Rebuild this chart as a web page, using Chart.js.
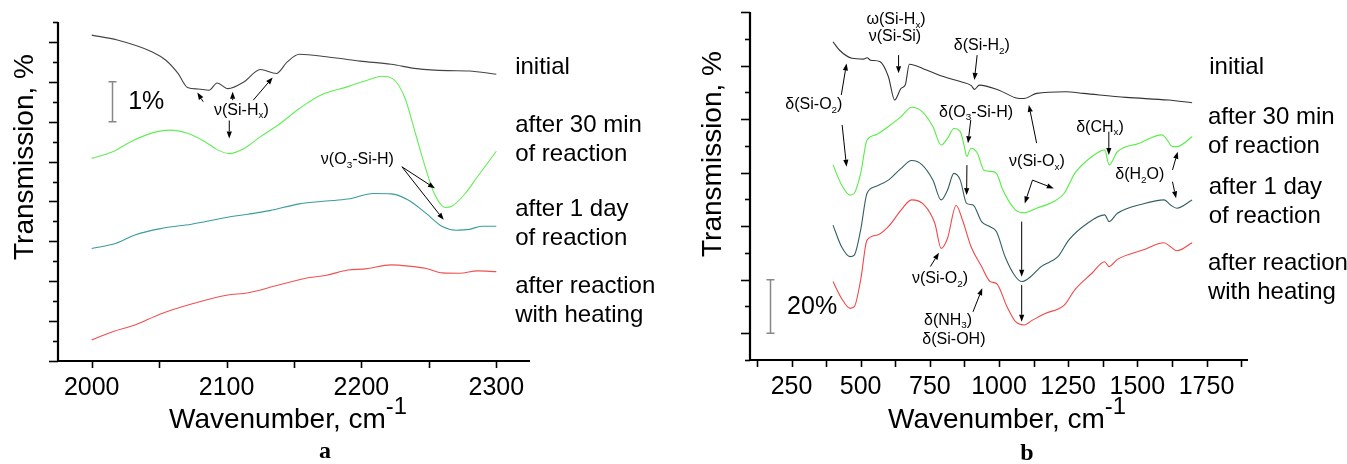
<!DOCTYPE html>
<html>
<head>
<meta charset="utf-8">
<script src="https://cdn.jsdelivr.net/npm/chart.js@4.4.1/dist/chart.umd.min.js"></script>
<style>
body { margin: 0; background: #fff; }
#wrap { position: relative; width: 1347px; height: 464px; }
#chartA { position: absolute; left: 0; top: 0; }
#chartB { position: absolute; left: 680px; top: 0; }
</style>
</head>
<body>
<div id="wrap">
<canvas id="chartA" width="680" height="464" style="width:680px;height:464px"></canvas>
<canvas id="chartB" width="667" height="464" style="width:667px;height:464px"></canvas>
</div>
<script>
// ---- panel a : 2000-2300 cm-1, transmission (offset), %
var xA_initial = [2000, 2019, 2045, 2055, 2064, 2071, 2079, 2087, 2093, 2101, 2113, 2125, 2137, 2145, 2154, 2174, 2199, 2222, 2241, 2264, 2280, 2300];
var yA_initial = [8.17, 8.05, 7.75, 7.54, 7.21, 6.86, 6.82, 6.79, 6.97, 6.83, 7.0, 7.31, 7.21, 7.50, 7.69, 7.63, 7.52, 7.44, 7.33, 7.28, 7.27, 7.19];
var xA_30min = [2000, 2016, 2029, 2045, 2058, 2071, 2084, 2093, 2102, 2113, 2125, 2138, 2154, 2170, 2190, 2206, 2215, 2223, 2232, 2240, 2248, 2254, 2262, 2267, 2277, 2286, 2300];
var yA_30min = [5.08, 5.25, 5.50, 5.72, 5.79, 5.71, 5.50, 5.30, 5.20, 5.33, 5.62, 5.91, 6.33, 6.67, 6.88, 7.06, 7.14, 7.08, 6.62, 5.71, 4.79, 4.20, 3.85, 3.88, 4.20, 4.62, 5.26];
var xA_1day = [2000, 2018, 2032, 2051, 2074, 2100, 2116, 2132, 2154, 2174, 2190, 2209, 2222, 2235, 2248, 2260, 2270, 2280, 2289, 2300];
var yA_1day = [2.82, 2.95, 3.16, 3.32, 3.43, 3.60, 3.68, 3.77, 3.94, 4.01, 4.06, 4.20, 4.19, 4.03, 3.70, 3.37, 3.28, 3.30, 3.38, 3.38];
var xA_heat = [2000, 2016, 2032, 2051, 2074, 2100, 2116, 2138, 2158, 2174, 2190, 2203, 2222, 2235, 2248, 2260, 2273, 2286, 2300];
var yA_heat = [0.53, 0.74, 0.90, 1.18, 1.43, 1.65, 1.71, 1.90, 2.07, 2.15, 2.28, 2.31, 2.41, 2.38, 2.32, 2.21, 2.20, 2.26, 2.24];
var xTicksA = [2000, 2100, 2200, 2300];

// ---- panel b : 400-1700 cm-1
var xB_initial = [400, 423, 469, 510, 523, 536, 569, 600, 623, 646, 661, 676, 738, 799, 860, 900, 911, 929, 998, 1067, 1090, 1136, 1240, 1305, 1459, 1612, 1698];
var yB_initial = [108.9, 105.8, 102.7, 102.4, 102.9, 102.0, 101.5, 95.9, 87.1, 91.5, 92.7, 100.5, 98.3, 95.9, 94.0, 92.5, 91.1, 92.7, 90.9, 87.8, 87.7, 89.6, 90.2, 89.6, 88.1, 87.1, 86.1];
var xB_30min = [400, 431, 462, 477, 500, 523, 554, 600, 646, 684, 722, 761, 791, 814, 837, 860, 876, 883, 899, 922, 945, 975, 991, 1014, 1060, 1091, 1136, 1198, 1236, 1274, 1336, 1382, 1398, 1428, 1505, 1589, 1604, 1627, 1643, 1698];
var yB_30min = [62.9, 55.4, 51.6, 52.3, 59.7, 72.2, 74.1, 77.2, 80.9, 84.4, 82.8, 77.2, 70.3, 72.8, 76.5, 75.3, 69.1, 66.0, 69.1, 67.2, 61.0, 60.4, 59.7, 53.5, 46.0, 45.0, 46.7, 49.2, 52.3, 59.7, 66.0, 68.5, 62.9, 67.8, 70.9, 74.1, 72.8, 69.7, 69.7, 73.4];
var xB_1day = [400, 431, 462, 477, 500, 523, 554, 600, 646, 684, 722, 761, 791, 814, 837, 860, 883, 906, 937, 968, 991, 1022, 1060, 1083, 1114, 1152, 1213, 1252, 1320, 1382, 1398, 1428, 1520, 1597, 1620, 1643, 1698];
var yB_1day = [40.4, 32.3, 28.6, 29.2, 38.6, 52.3, 54.8, 57.2, 61.6, 64.5, 62.9, 57.2, 49.8, 53.5, 59.7, 57.2, 48.5, 47.9, 41.7, 39.8, 37.9, 28.6, 21.1, 19.3, 21.1, 24.9, 28.6, 34.8, 41.1, 44.2, 41.7, 44.8, 48.3, 49.8, 47.9, 46.7, 49.8];
var xB_heat = [400, 431, 462, 477, 500, 523, 561, 600, 646, 684, 730, 768, 791, 814, 845, 868, 899, 937, 968, 991, 1029, 1060, 1091, 1121, 1167, 1236, 1274, 1336, 1382, 1398, 1428, 1520, 1597, 1620, 1643, 1698];
var yB_heat = [19.3, 13.0, 9.3, 9.9, 19.9, 34.8, 36.7, 39.8, 46.0, 49.8, 47.9, 41.1, 31.7, 35.5, 47.7, 42.3, 32.3, 24.9, 19.3, 18.6, 9.9, 4.3, 3.1, 4.9, 7.4, 10.5, 16.2, 22.4, 26.7, 24.9, 27.6, 31.1, 33.8, 32.3, 30.8, 33.8];
var xTicksB = [250, 500, 750, 1000, 1250, 1500, 1750];

var seriesNames = [['initial'], ['after 30 min', 'of reaction'], ['after 1 day', 'of reaction'], ['after reaction', 'with heating']];

// label anchors (data units) and annotations: [text, x, y] / arrows [x1, y1, x2, y2]
var namePosA = [[2314, 7.37], [2314, 5.92], [2314, 3.79], [2314, 1.86]];
var namePosB = [[1760, 99.4], [1755, 80.8], [1758, 54.6], [1755, 26.2]];
var notesA = [['ν(Si-H_x)', 2111, 6.29], ['ν(O_3-Si-H)', 2197, 5.04]];
var arrowsA = [[2082.7, 6.50, 2078.3, 6.73], [2104.5, 6.54, 2104.5, 6.75], [2102, 6.03, 2102, 5.58],
  [2119.8, 6.54, 2134.2, 7.11], [2230, 4.87, 2254.5, 4.33], [2230, 4.87, 2261, 3.54]];
var notesB = [['ω(Si-H_x)', 628, 117.0], ['ν(Si-Si)', 624, 110.7], ['δ(Si-H_2)', 938, 107.3], ['δ(Si-O_2)', 331, 85.3],
  ['δ(O_3-Si-H)', 917, 82.6], ['ν(Si-O_x)', 1137, 64.0], ['δ(CH_x)', 1365, 77.0], ['δ(H_2O)', 1509, 59.1],
  ['ν(Si-O_2)', 787, 20.3], ['δ(NH_3)', 816, 4.9], ['δ(Si-OH)', 837, -2.5]];
var arrowsB = [[637, 103.9, 637, 97.1], [921, 103.9, 911, 94.6], [430, 89.0, 449, 100.8], [433, 77.8, 449, 62.2],
  [898, 79.7, 888, 71.0], [884, 62.8, 883, 51.6], [1136, 71.0, 1108, 85.3], [1121, 57.2, 1093, 48.5],
  [1121, 57.2, 1198, 54.1], [1082, 41.7, 1082, 21.1], [1082, 18.0, 1082, 4.3], [1397, 75.3, 1397, 66.6],
  [1627, 61.0, 1646, 67.8], [1627, 56.6, 1640, 50.4], [752, 24.9, 783, 30.1], [906, 8.0, 939.5, 16.8]];

var FONT = '"Liberation Sans", Arial, sans-serif';

function pts(xs, ys) {
  return xs.map(function (x, i) { return {x: x, y: ys[i]}; });
}

// text with _c (subscript char) and ^{..} (superscript)
function richText(ctx, str, x, y, size, align) {
  var parts = [], i = 0;
  while (i < str.length) {
    var c = str[i];
    if (c === '_') { parts.push({t: str[i + 1], k: 'sub'}); i += 2; }
    else if (c === '^') { var j = str.indexOf('}', i); parts.push({t: str.slice(i + 2, j), k: 'sup'}); i = j + 1; }
    else {
      if (parts.length && parts[parts.length - 1].k === 'n') parts[parts.length - 1].t += c;
      else parts.push({t: c, k: 'n'});
      i++;
    }
  }
  var w = 0;
  parts.forEach(function (p) {
    p.size = p.k === 'n' ? size : (p.k === 'sub' ? size * 0.62 : size * 0.85);
    ctx.font = p.size + 'px ' + FONT;
    p.w = ctx.measureText(p.t).width;
    w += p.w;
  });
  var cx = align === 'center' ? x - w / 2 : x;
  ctx.textBaseline = 'middle';
  ctx.textAlign = 'left';
  parts.forEach(function (p) {
    ctx.font = p.size + 'px ' + FONT;
    var dy = p.k === 'sub' ? size * 0.32 : (p.k === 'sup' ? -size * 0.45 : 0);
    ctx.fillText(p.t, cx, y + dy);
    cx += p.w;
  });
}

function arrow(ctx, x1, y1, x2, y2) {
  var a = Math.atan2(y2 - y1, x2 - x1), L = 7, H = 2.6;
  ctx.beginPath();
  ctx.moveTo(x1, y1);
  ctx.lineTo(x2 - L * Math.cos(a), y2 - L * Math.sin(a));
  ctx.stroke();
  ctx.beginPath();
  ctx.moveTo(x2, y2);
  ctx.lineTo(x2 - L * Math.cos(a) + H * Math.sin(a), y2 - L * Math.sin(a) - H * Math.cos(a));
  ctx.lineTo(x2 - L * Math.cos(a) - H * Math.sin(a), y2 - L * Math.sin(a) + H * Math.cos(a));
  ctx.closePath();
  ctx.fill();
}

function decoPlugin(cfg) {
  return {
    id: 'deco',
    afterDraw: function (chart) {
      var ctx = chart.ctx, xs = chart.scales.x, ys = chart.scales.y, ca = chart.chartArea;
      ctx.save();
      ctx.strokeStyle = '#000';
      ctx.fillStyle = '#000';
      // y ticks
      ctx.lineWidth = 1.6;
      for (var v = ys.min; v <= ys.max + 1e-6; v += cfg.yStep) {
        var py = Math.round(ys.getPixelForValue(v)) + 0.5;
        var major = Math.abs(Math.round(v / cfg.yMajor) * cfg.yMajor - v) < 1e-6;
        ctx.beginPath();
        ctx.moveTo(ca.left, py);
        ctx.lineTo(ca.left - (major ? 9 : 5), py);
        ctx.stroke();
      }
      // x ticks
      for (var t = cfg.xFirst; t <= xs.max; t += cfg.xStep) {
        var px = Math.round(xs.getPixelForValue(t)) + 0.5;
        ctx.beginPath();
        ctx.moveTo(px, ca.bottom);
        ctx.lineTo(px, ca.bottom + 7);
        ctx.stroke();
      }
      // axis lines
      ctx.lineWidth = 2.2;
      ctx.beginPath();
      ctx.moveTo(ca.left, ca.top);
      ctx.lineTo(ca.left, ca.bottom);
      ctx.lineTo(ca.right, ca.bottom);
      ctx.stroke();
      // scale bar
      var bx = Math.round(xs.getPixelForValue(cfg.bar[0])) + 0.5;
      var b1 = ys.getPixelForValue(cfg.bar[1]), b2 = ys.getPixelForValue(cfg.bar[2]);
      ctx.strokeStyle = '#888';
      ctx.lineWidth = 1.5;
      ctx.beginPath();
      ctx.moveTo(bx, b1); ctx.lineTo(bx, b2);
      ctx.moveTo(bx - 4, b1); ctx.lineTo(bx + 4, b1);
      ctx.moveTo(bx - 4, b2); ctx.lineTo(bx + 4, b2);
      ctx.stroke();
      ctx.fillStyle = '#000';
      richText(ctx, cfg.bar[3], xs.getPixelForValue(cfg.bar[4]), ys.getPixelForValue(cfg.bar[5]), 25, 'left');
      // series names
      cfg.names.forEach(function (p, i) {
        seriesNames[i].forEach(function (line, k) {
          richText(ctx, line, xs.getPixelForValue(p[0]), ys.getPixelForValue(p[1]) + k * 29, 24, 'left');
        });
      });
      // annotations
      cfg.notes.forEach(function (n) {
        richText(ctx, n[0], xs.getPixelForValue(n[1]), ys.getPixelForValue(n[2]), 16, 'center');
      });
      ctx.strokeStyle = '#000';
      ctx.lineWidth = 1;
      cfg.arrows.forEach(function (a) {
        arrow(ctx, xs.getPixelForValue(a[0]), ys.getPixelForValue(a[1]), xs.getPixelForValue(a[2]), ys.getPixelForValue(a[3]));
      });
      // axis titles
      richText(ctx, 'Wavenumber, cm^{-1}', cfg.xTitle[0], cfg.xTitle[1], 28, 'center');
      ctx.save();
      ctx.translate(cfg.yTitle[0], cfg.yTitle[1]);
      ctx.rotate(-Math.PI / 2);
      richText(ctx, 'Transmission, %', 0, 0, 28, 'center');
      ctx.restore();
      // panel letter
      ctx.font = 'bold 24px "Liberation Serif", "DejaVu Serif", serif';
      ctx.textAlign = 'center';
      ctx.textBaseline = 'middle';
      ctx.fillText(cfg.letter[0], cfg.letter[1], cfg.letter[2]);
      ctx.restore();
    }
  };
}

function makeChart(id, sets, colors, xr, yr, ticks, pad, cfg) {
  return new Chart(document.getElementById(id), {
    type: 'line',
    data: {
      datasets: sets.map(function (s, i) {
        return {data: s, borderColor: colors[i], borderWidth: 1.1, pointRadius: 0,
          cubicInterpolationMode: 'monotone', fill: false};
      })
    },
    options: {
      responsive: false,
      animation: false,
      layout: {padding: pad},
      plugins: {legend: {display: false}, tooltip: {enabled: false}},
      scales: {
        x: {
          type: 'linear', min: xr[0], max: xr[1],
          afterBuildTicks: function (s) { s.ticks = ticks.map(function (v) { return {value: v}; }); },
          afterFit: function (s) { s.height = pad.xh; },
          grid: {display: false, drawTicks: false},
          border: {display: false},
          ticks: {color: '#000', font: {family: FONT, size: 25}, padding: 12, maxRotation: 0, autoSkip: false,
            callback: function (v) { return String(v); }}
        },
        y: {min: yr[0], max: yr[1], display: false}
      }
    },
    plugins: [decoPlugin(cfg)]
  });
}

makeChart('chartA',
  [pts(xA_initial, yA_initial), pts(xA_30min, yA_30min), pts(xA_1day, yA_1day), pts(xA_heat, yA_heat)],
  ['#444444', '#62ee55', '#3a9c9c', '#f05050'],
  [1975, 2325], [0, 8.5], xTicksA,
  {left: 58, right: 150, top: 22, bottom: 0, xh: 103},
  {yStep: 0.5, yMajor: 1, xFirst: 2000, xStep: 50, bar: [2015, 6, 7, '1%', 2027, 6.49],
   names: namePosA, notes: notesA, arrows: arrowsA, xTitle: [288, 420], yTitle: [25, 157], letter: ['a', 325, 452]});

makeChart('chartB',
  [pts(xB_initial, yB_initial), pts(xB_30min, yB_30min), pts(xB_1day, yB_1day), pts(xB_heat, yB_heat)],
  ['#333333', '#55ee44', '#335f5f', '#f04848'],
  [100, 1900], [-10, 120], xTicksB,
  {left: 70, right: 99, top: 12, bottom: 0, xh: 104},
  {yStep: 10, yMajor: 20, xFirst: 125, xStep: 125, bar: [172, 0, 20, '20%', 234, 9.8],
   names: namePosB, notes: notesB, arrows: arrowsB, xTitle: [327, 420], yTitle: [33, 154], letter: ['b', 347, 454]});
</script>
</body>
</html>
